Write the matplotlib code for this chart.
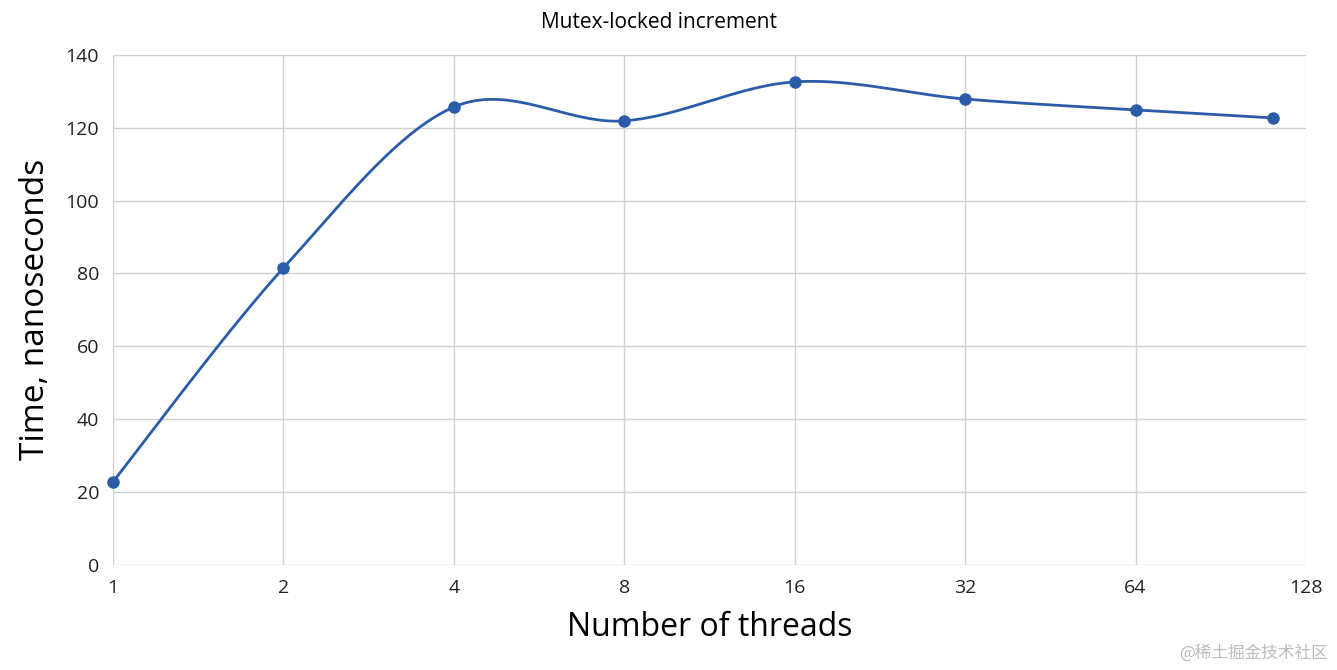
import numpy as np
import matplotlib.pyplot as plt

threads = [1, 2, 4, 8, 16, 32, 64, 112]
times = [22.8, 81.5, 125.7, 121.9, 132.6, 127.9, 124.9, 122.7]
tick_vals = [1, 2, 4, 8, 16, 32, 64, 128]

plt.rcParams['font.family'] = ['Open Sans', 'DejaVu Sans']

# Excel-style smoothed line: Catmull-Rom through the points in log2 space
px = np.log2(threads)
py = np.array(times)
sx, sy = [], []
n = len(px)
for i in range(n - 1):
    p0 = i - 1 if i > 0 else i
    p3 = i + 2 if i + 2 < n else i + 1
    c1x = px[i] + (px[i + 1] - px[p0]) / 6
    c1y = py[i] + (py[i + 1] - py[p0]) / 6
    c2x = px[i + 1] - (px[p3] - px[i]) / 6
    c2y = py[i + 1] - (py[p3] - py[i]) / 6
    t = np.linspace(0, 1, 40)
    sx.extend((1-t)**3*px[i] + 3*(1-t)**2*t*c1x + 3*(1-t)*t**2*c2x + t**3*px[i+1])
    sy.extend((1-t)**3*py[i] + 3*(1-t)**2*t*c1y + 3*(1-t)*t**2*c2y + t**3*py[i+1])

fig = plt.figure(figsize=(13.37, 6.70), dpi=100)
ax = fig.add_axes([0.0845, 0.157, 0.8923, 0.761])
color = '#2a5caa'
ax.plot(sx, sy, color=color, lw=2, clip_on=False)
ax.plot(px, py, 'o', color=color, ms=8, clip_on=False)

ax.set_xlim(0, 7)
ax.set_ylim(0, 140)
ax.set_xticks(np.log2(tick_vals))
ax.set_xticklabels([str(v) for v in tick_vals])
ax.set_yticks(range(0, 141, 20))
ax.grid(True, color='#d0d0d0', lw=1)
for s in ax.spines.values():
    s.set_visible(False)
ax.tick_params(length=0, labelsize=14, colors='#222222', pad=10)
ax.set_xlabel('Number of threads', fontsize=23, labelpad=10)
ax.set_ylabel('Time, nanoseconds', fontsize=24, labelpad=10)
fig.text(0.493, 0.967, 'Mutex-locked increment', ha='center', va='center', fontsize=15)
fig.text(0.993, 0.025, '@稀土掘金技术社区', ha='right', va='center', fontsize=12,
         color='#bbbbbb', family=['Noto Sans CJK SC', 'DejaVu Sans'])
fig.savefig('out.png')
